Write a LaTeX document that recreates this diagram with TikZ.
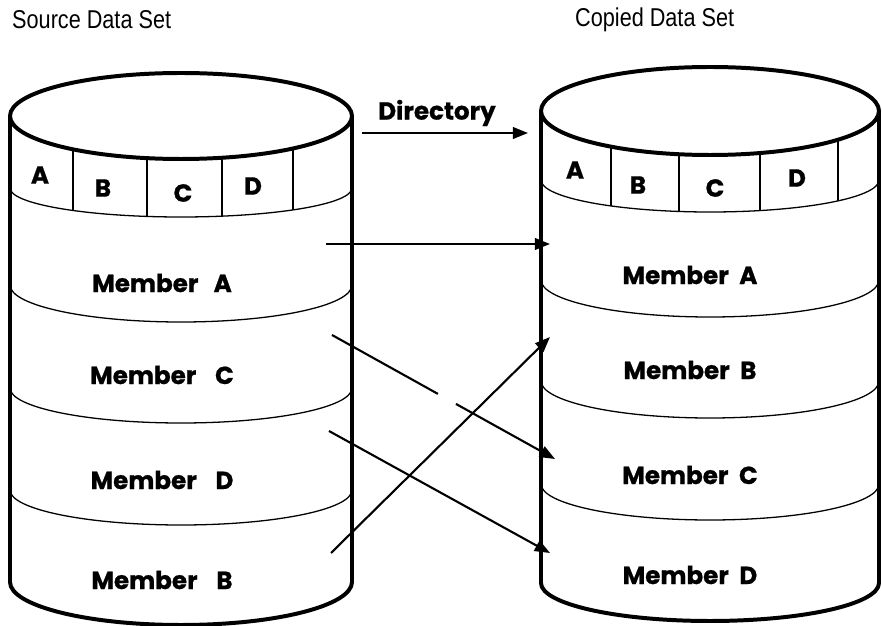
\documentclass[tikz,border=0pt]{standalone}
\usepackage{fontspec}
\setmainfont{Liberation Sans}
\newfontfamily\geo{Poppins}[BoldFeatures={FakeBold=0.8}]
\usetikzlibrary{arrows.meta,calc}

\begin{document}
\begin{tikzpicture}[x=0.03cm, y=-0.03cm,
  shell/.style={line width=3.4pt, line join=round},
  rim/.style={line width=1.1pt},
  wire/.style={line width=1.8pt},
  flow/.style={wire, -{Triangle[length=13pt,width=10pt]}},
  hdr/.style={font=\fontsize{22}{26}\selectfont, inner sep=0pt, anchor=west},
  lbl/.style={font=\geo\bfseries\fontsize{21}{24}\selectfont, inner sep=0pt}]
\useasboundingbox (0,0) rectangle (882,626);

% ---------- source drum ----------
\begin{scope}
  \clip (10,116) arc[start angle=180, end angle=0, x radius=171, y radius=43]
        -- (352,188) arc[start angle=0, end angle=180, x radius=171, y radius=29] -- cycle;
  \foreach \xx in {73,147,222,293} \draw[rim] (\xx,60) -- (\xx,240);
\end{scope}
\draw[rim] (10,188) arc[start angle=180, end angle=0, x radius=171, y radius=29];
\draw[rim] (10,285) arc[start angle=180, end angle=0, x radius=171, y radius=37];
\draw[rim] (10,388) arc[start angle=180, end angle=0, x radius=171, y radius=35];
\draw[rim] (10,490) arc[start angle=180, end angle=0, x radius=171, y radius=35];
\draw[shell] (10,116) -- (10,582) arc[start angle=180, end angle=0, x radius=171, y radius=43] -- (352,116);
\draw[shell] (181,116) ellipse[x radius=171, y radius=43];

\node[lbl] (sA) at (40,175) {A};
\node[lbl] (sB) at (103,188) {B};
\node[lbl] (sC) at (183,193) {C};
\node[lbl] (sD) at (253,186) {D};

\node[lbl] (smA) at (162,283) {Member\hspace{13pt}A};
\node[lbl] (smC) at (162,375) {Member\hspace{16pt}C};
\node[lbl] (smD) at (162,480) {Member\hspace{16pt}D};
\node[lbl] (smB) at (162,580) {Member\hspace{16pt}B};

% ---------- copied drum ----------
\begin{scope}
  \clip (541,111) arc[start angle=180, end angle=0, x radius=169, y radius=44]
        -- (879,180) arc[start angle=0, end angle=180, x radius=169, y radius=32] -- cycle;
  \foreach \xx in {611,679,760,838} \draw[rim] (\xx,60) -- (\xx,240);
\end{scope}
\draw[rim] (541,180) arc[start angle=180, end angle=0, x radius=169, y radius=32];
\draw[rim] (541,280) arc[start angle=180, end angle=0, x radius=169, y radius=37];
\draw[rim] (541,381) arc[start angle=180, end angle=0, x radius=169, y radius=37];
\draw[rim] (541,484) arc[start angle=180, end angle=0, x radius=169, y radius=36];
\draw[shell] (541,111) -- (541,583) arc[start angle=180, end angle=0, x radius=169, y radius=38] -- (879,111);
\draw[shell] (710,111) ellipse[x radius=169, y radius=44];

\node[lbl] (cA) at (575,170) {A};
\node[lbl] (cB) at (638,185) {B};
\node[lbl] (cC) at (715,188) {C};
\node[lbl] (cD) at (797,178) {D};

\node[lbl] (cmA) at (690,275) {Member\hspace{9pt}A};
\node[lbl] (cmB) at (690,370) {Member\hspace{9pt}B};
\node[lbl] (cmC) at (690,475) {Member\hspace{9pt}C};
\node[lbl] (cmD) at (690,575) {Member\hspace{9pt}D};

% ---------- headings ----------
\node[hdr] (srcTitle) at (12,20) {\scalebox{0.84}[1]{Source Data Set}};
\node[hdr] (dstTitle) at (575,20) {\scalebox{0.84}[1]{Copied Data Set}};

% ---------- directory transfer ----------
\node[lbl] (dir) at (437,113) {Directory};
\coordinate (dirL) at (362,133);
\coordinate (dirR) at (528,133);
\draw[flow] (dirL) -- (dirR);

% ---------- member transfers ----------
\coordinate (srcA) at (326,244); \coordinate (dstA) at (550,244);
\coordinate (srcC) at (332,335); \coordinate (dstC) at (555,459);
\coordinate (srcD) at (329,431); \coordinate (dstD) at (550,553);
\coordinate (srcB) at (331,553); \coordinate (dstB) at (550,337);

\draw[flow] (srcA) -- (dstA);
\draw[wire] (srcC) -- ($(srcC)!0.475!(dstC)$);
\draw[flow] ($(srcC)!0.556!(dstC)$) -- (dstC);
\draw[flow] (srcD) -- (dstD);
\draw[flow] (srcB) -- (dstB);
\end{tikzpicture}
\end{document}
